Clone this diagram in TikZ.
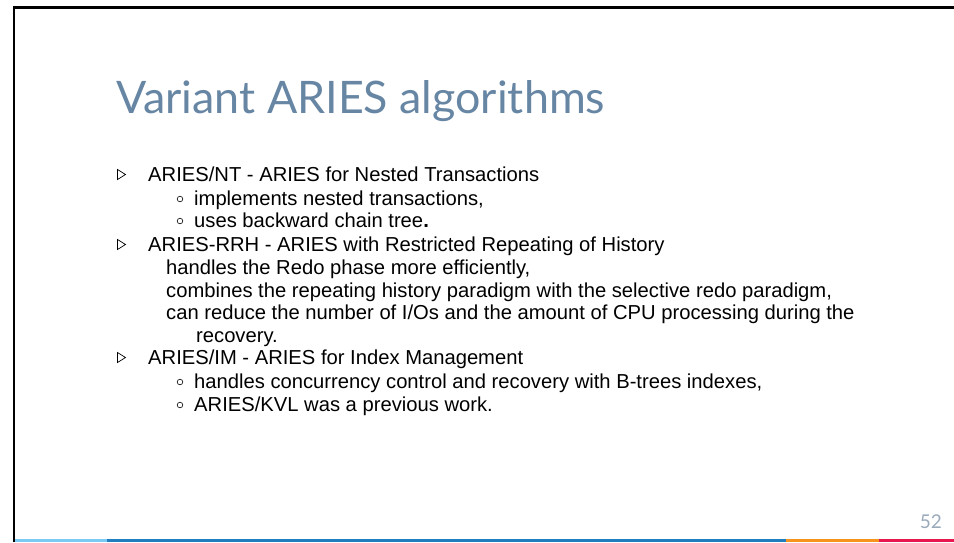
\documentclass[tikz,border=0pt]{standalone}
\usepackage{fontspec}
\setmainfont{Liberation Sans}
\newfontfamily\titlefont{Lato}
\definecolor{titleblue}{HTML}{6686A4}
\definecolor{pagegray}{HTML}{9AAABB}
\definecolor{barlight}{HTML}{7CC9F4}
\definecolor{barblue}{HTML}{1F7DC0}
\definecolor{barorange}{HTML}{F7941D}
\definecolor{barred}{HTML}{E8174F}
\tikzset{
  body/.style={anchor=base west, inner sep=0pt, font=\fontsize{20.2}{20.2}\selectfont, text=black},
  tri/.style={draw=black, line width=0.7pt, line join=miter},
  ring/.style={draw=black, line width=0.6pt},
}
\begin{document}
\begin{tikzpicture}[x=1pt,y=-1pt]
\useasboundingbox (0,0) rectangle (954,542);
\fill[white] (0,0) rectangle (954,542);
% frame
\draw[line width=2.6pt, black] (14,542) -- (14,7.5) -- (954,7.5);
% bottom bar
\fill[barlight] (15,538.5) rectangle (107,542);
\fill[barblue] (107,538.5) rectangle (786,542);
\fill[barorange] (786,538.5) rectangle (879,542);
\fill[barred] (879,538.5) rectangle (954,542);
% title
\node[anchor=base west, inner sep=0pt, text=titleblue, font=\titlefont\fontsize{44.8}{44.8}\selectfont] (title) at (116,113) {Variant ARIES algorithms};
% page number
\node[anchor=base east, inner sep=0pt, text=pagegray, font=\titlefont\fontsize{19}{19}\selectfont] (page) at (942,528) {52};
% bullets level 1
\foreach \y in {181,251,364} {
  \draw[tri] (117.5,\y-11.5) -- (117.5,\y-1.5) -- (125.5,\y-6.5) -- cycle;
}
\foreach \y in {205,227,388,411} {
  \draw[ring] (180,\y-6) circle (2.8);
}
\node[body] (l1) at (148,181) {ARIES/NT - ARIES for Nested Transactions};
\node[body] (l1a) at (194,205) {implements nested transactions,};
\node[body] (l1b) at (194,227) {uses backward chain tree\textbf{.}};
\node[body] (l2) at (148,251) {ARIES-RRH - ARIES with Restricted Repeating of History};
\node[body] (l2a) at (166,274) {handles the Redo phase more efficiently,};
\node[body] (l2b) at (166,297) {combines the repeating history paradigm with the selective redo paradigm,};
\node[body] (l2c) at (166,319) {can reduce the number of I/Os and the amount of CPU processing during the};
\node[body] (l2d) at (196,342) {recovery.};
\node[body] (l3) at (148,364) {ARIES/IM - ARIES for Index Management};
\node[body] (l3a) at (194,388) {handles concurrency control and recovery with B-trees indexes,};
\node[body] (l3b) at (194,411) {ARIES/KVL was a previous work.};
\end{tikzpicture}
\end{document}
